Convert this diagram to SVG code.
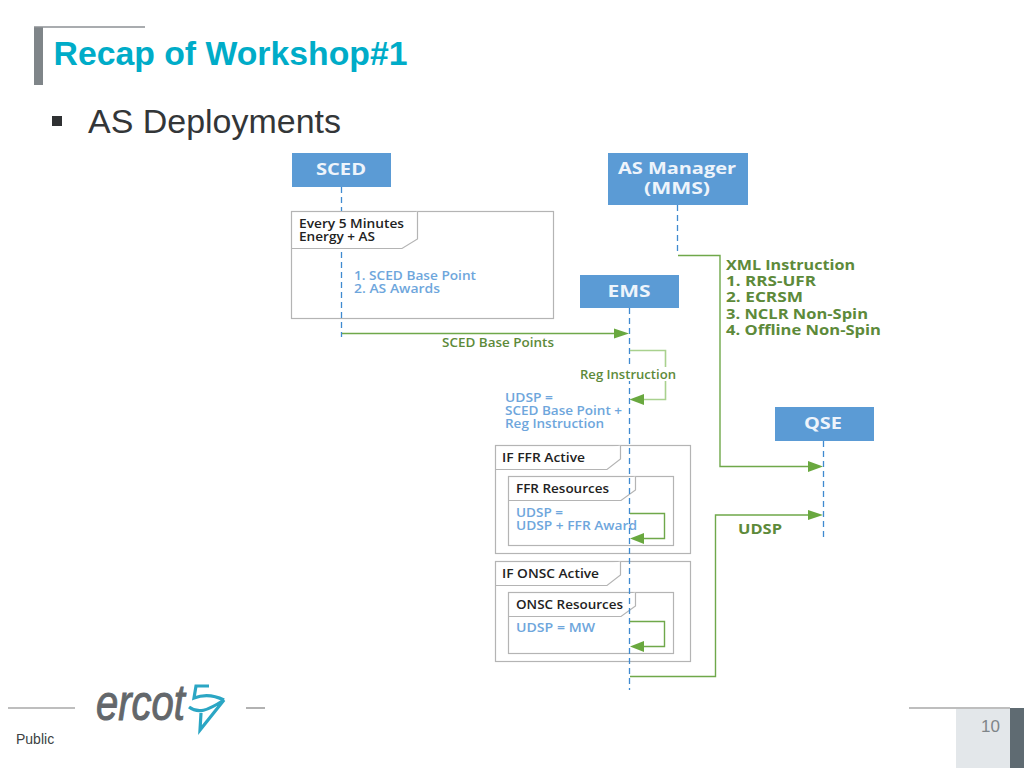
<svg xmlns="http://www.w3.org/2000/svg" width="1024" height="768" viewBox="0 0 1024 768">
<style>
text{font-family:"Open Sans","DejaVu Sans",sans-serif;font-weight:700}
.box{fill:#5b9bd5}
.bt{fill:#eef4fb;font-size:16px;text-anchor:middle}
.life{fill:none;stroke:#3f8ad0;stroke-width:1.3;stroke-dasharray:6 4}
.g{fill:none;stroke:#6fa84a;stroke-width:1.4}
.lg{fill:none;stroke:#a9d18e;stroke-width:1.6}
.frame{fill:#fff;stroke:#b4b4b4;stroke-width:1.2}
.bk{fill:#222;font-size:12px;font-weight:600;transform:translateY(.6px)}
.bl{fill:#6ea6dc;font-size:12px;font-weight:600;transform:translateY(.6px)}
.gn{fill:#5d8a3a;font-size:12px;font-weight:600;transform:translateY(.6px)}
.lg13{font-size:13.500px;font-weight:700}
.ar{fill:#69a83f}
.rule{stroke:#7f7f7f;stroke-width:1.2}
.sans{font-family:"Liberation Sans",Arial,sans-serif}
</style>
<g id="title">
<rect x="34" y="27" width="9" height="58" fill="#7f8589"/>
<line x1="34" y1="27" x2="145" y2="27" stroke="#8c9094" stroke-width="1.4"/>
<text class="sans" x="53.500" y="65" font-size="33.500" fill="#00acc8" textLength="354" lengthAdjust="spacingAndGlyphs">Recap of Workshop#1</text>
</g>
<g id="bullet">
<rect x="52" y="116" width="10" height="10" fill="#2f3133"/>
<text class="sans" x="88" y="133" font-size="33.500" style="font-weight:400" fill="#333638" textLength="253" lengthAdjust="spacingAndGlyphs">AS Deployments</text>
</g>
<g id="frame-every5">
<rect class="frame" x="291.500" y="211.500" width="262" height="107"/>
<path class="frame" d="M291.500 248.500H402L417.500 239V211.500"/>
<text class="bk" x="299" y="227" textLength="105" lengthAdjust="spacingAndGlyphs">Every 5 Minutes</text>
<text class="bk" x="299" y="240" textLength="76" lengthAdjust="spacingAndGlyphs">Energy + AS</text>
<text class="bl" x="354" y="279" textLength="122" lengthAdjust="spacingAndGlyphs">1. SCED Base Point</text>
<text class="bl" x="354" y="292" textLength="86" lengthAdjust="spacingAndGlyphs">2. AS Awards</text>
</g>
<g id="frame-ffr">
<rect class="frame" x="495.500" y="445.500" width="195" height="108"/>
<path class="frame" d="M495.500 469.500H607L620.500 459V445.500"/>
<text class="bk" x="502" y="461" textLength="83" lengthAdjust="spacingAndGlyphs">IF FFR Active</text>
<rect class="frame" x="508.500" y="476.500" width="165" height="69"/>
<path class="frame" d="M508.500 500.500H621L635.500 490V476.500"/>
<text class="bk" x="516" y="492" textLength="93" lengthAdjust="spacingAndGlyphs">FFR Resources</text>
<text class="bl" x="516" y="516" textLength="47" lengthAdjust="spacingAndGlyphs">UDSP =</text>
<text class="bl" x="516" y="529" textLength="121" lengthAdjust="spacingAndGlyphs">UDSP + FFR Award</text>
</g>
<g id="frame-onsc">
<rect class="frame" x="495.500" y="561.500" width="195" height="100"/>
<path class="frame" d="M495.500 585.500H607L620.500 575V561.500"/>
<text class="bk" x="502" y="577" textLength="97" lengthAdjust="spacingAndGlyphs">IF ONSC Active</text>
<rect class="frame" x="508.500" y="592.500" width="165" height="61"/>
<path class="frame" d="M508.500 616.500H621L635.500 606V592.500"/>
<text class="bk" x="516" y="608" textLength="107" lengthAdjust="spacingAndGlyphs">ONSC Resources</text>
<text class="bl" x="516" y="631" textLength="79" lengthAdjust="spacingAndGlyphs">UDSP = MW</text>
</g>
<g id="connectors">
<path class="life" d="M341.500 187V211M341.500 252V337"/>
<path class="life" d="M677.500 205V255"/>
<path class="life" d="M629.500 308V690"/>
<path class="life" d="M823.500 441V537"/>
<path class="g" d="M342 333.500H615"/>
<path class="ar" d="M614 328.500L629 333.500L614 338.500Z"/>
<path class="lg" d="M630 350.500H665.500V399.500H644"/>
<path class="ar" d="M629.500 399.500L644 394V405Z"/>
<path class="g" d="M678 255.500H720V466.500H810"/>
<path class="ar" d="M808 461L823 466.500L808 472Z"/>
<path class="g" d="M630 676.500H715.500V515H810"/>
<path class="ar" d="M808 510L823 515L808 520Z"/>
<path class="g" d="M630 513.500H664.500V538.500H644"/>
<path class="ar" d="M630 538.500L644 533V544Z"/>
<path class="g" d="M630 621.500H664.500V646.500H644"/>
<path class="ar" d="M630 646.500L644 641V652Z"/>
</g>
<g id="sced"><rect class="box" x="292" y="153" width="99" height="34"/><text class="bt" x="341" y="175" textLength="50" lengthAdjust="spacingAndGlyphs">SCED</text></g>
<g id="as-manager"><rect class="box" x="608" y="153" width="140" height="52"/><text class="bt" x="677" y="174" textLength="118" lengthAdjust="spacingAndGlyphs">AS Manager</text><text class="bt" x="677" y="194" textLength="66" lengthAdjust="spacingAndGlyphs">(MMS)</text></g>
<g id="ems"><rect class="box" x="580" y="275" width="99" height="33"/><text class="bt" x="629" y="297" textLength="43" lengthAdjust="spacingAndGlyphs">EMS</text></g>
<g id="qse"><rect class="box" x="775" y="407" width="99" height="34"/><text class="bt" x="823" y="429" textLength="38" lengthAdjust="spacingAndGlyphs">QSE</text></g>
<g id="labels">
<text class="gn" x="442" y="346" textLength="112" lengthAdjust="spacingAndGlyphs">SCED Base Points</text>
<rect x="579" y="367" width="98" height="14" fill="#fff"/>
<text class="gn" x="580" y="378" textLength="96" lengthAdjust="spacingAndGlyphs">Reg Instruction</text>
<text class="bl" x="505" y="401" textLength="48" lengthAdjust="spacingAndGlyphs">UDSP =</text>
<text class="bl" x="505" y="414" textLength="117" lengthAdjust="spacingAndGlyphs">SCED Base Point +</text>
<text class="bl" x="505" y="427" textLength="99" lengthAdjust="spacingAndGlyphs">Reg Instruction</text>
<text class="gn lg13" x="726" y="269" textLength="129" lengthAdjust="spacingAndGlyphs">XML Instruction</text>
<text class="gn lg13" x="726" y="285" textLength="90" lengthAdjust="spacingAndGlyphs">1. RRS-UFR</text>
<text class="gn lg13" x="726" y="301" textLength="77" lengthAdjust="spacingAndGlyphs">2. ECRSM</text>
<text class="gn lg13" x="726" y="318" textLength="142" lengthAdjust="spacingAndGlyphs">3. NCLR Non-Spin</text>
<text class="gn lg13" x="726" y="334" textLength="155" lengthAdjust="spacingAndGlyphs">4. Offline Non-Spin</text>
<text class="gn lg13" x="738" y="533" textLength="44" lengthAdjust="spacingAndGlyphs">UDSP</text>
</g>
<g id="footer">
<line class="rule" x1="8" y1="708" x2="75" y2="708"/>
<line class="rule" x1="246" y1="708" x2="265" y2="708"/>
<line class="rule" x1="909" y1="708" x2="1010" y2="708"/>
<rect x="956" y="709" width="54" height="59" fill="#e3e7ea"/>
<rect x="1010" y="708" width="14" height="60" fill="#5f6b72"/>
<text class="sans" x="1000" y="732" font-size="17" style="font-weight:400" fill="#7f8589" text-anchor="end">10</text>
<text class="sans" x="16" y="744" font-size="14" style="font-weight:400" fill="#3c3f42">Public</text>
<text class="sans" x="96" y="720" font-size="50" font-style="italic" style="font-weight:400;stroke:#63676b;stroke-width:1" fill="#63676b" textLength="89" lengthAdjust="spacingAndGlyphs">ercot</text>
<path d="M209 686H196L194 698C204 694 214 695 224 700" fill="none" stroke="#2ba6c4" stroke-width="3.200"/>
<path d="M189 707C198 714 207 711 224 700L200 730L201 713" fill="none" stroke="#2ba6c4" stroke-width="3.200"/>
</g>
</svg>
